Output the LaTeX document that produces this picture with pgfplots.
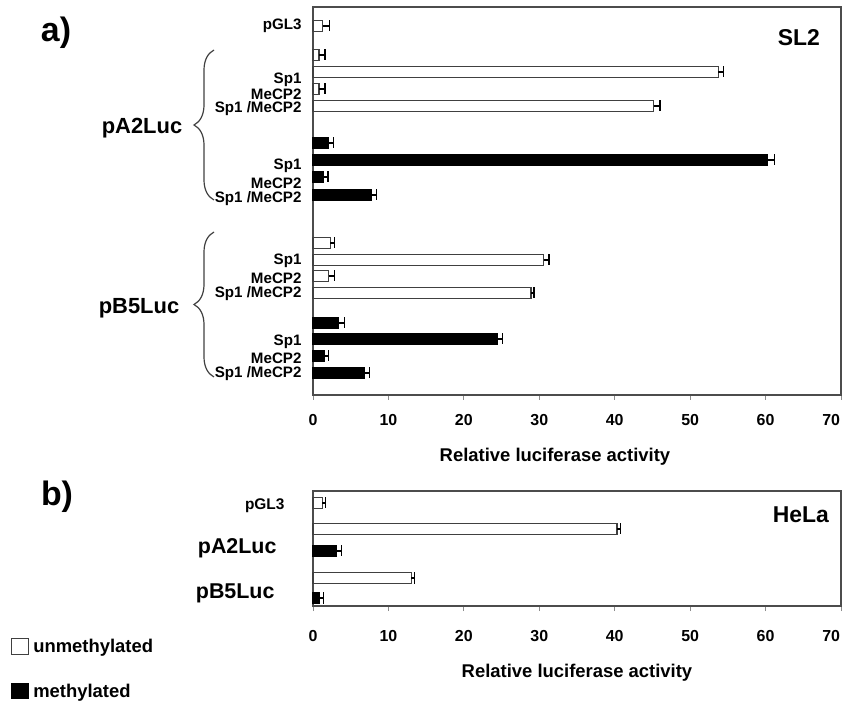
\documentclass[border=0pt]{standalone}
\usepackage{pgfplots}
\pgfplotsset{compat=1.18}
\usepackage{fontspec}
\setmainfont{Liberation Sans}
\usetikzlibrary{decorations.pathreplacing}
\newcommand{\fs}[1]{\fontsize{#1}{#1}\selectfont\bfseries}
\begin{document}
\bfseries
\begin{tikzpicture}
\useasboundingbox (0,0) rectangle (846bp,702bp);
\pgfplotsset{
  common/.style={
    scale only axis, width=528bp,
    xmin=0, xmax=70, xtick={0,10,...,70},
    xticklabels={0,10,20,30,40,50,60,{\makebox[0pt][r]{70\hspace*{1bp}}}},
    axis line style={draw=black!70, line width=1.1bp},
    tick align=outside, xtick pos=bottom,
    x tick style={draw=black!45, line width=0.8bp},
    major tick length=5bp,
    ytick style={draw=none},
    /pgf/number format/assume math mode=true,
    xticklabel style={font=\fs{16}},
    xlabel={Relative luciferase activity},
    xlabel style={font=\fs{18.5}},
    clip=false,
  },
  wbar/.style={xbar, bar shift=0pt, bar width=11, fill=white, draw=black!75, line width=1.1bp,
    error bars/.cd, x dir=plus, x explicit, error mark=|,
    error bar style={black, line width=1.1bp},
    error mark options={black, mark size=5.5bp, line width=1.2bp}, /pgfplots/.cd},
  bbar/.style={xbar, bar shift=0pt, bar width=11, fill=black, draw=black, line width=1.1bp,
    error bars/.cd, x dir=plus, x explicit, error mark=|,
    error bar style={black, line width=1.1bp},
    error mark options={black, mark size=5.5bp, line width=1.2bp}, /pgfplots/.cd},
}
% ---------- panel a ----------
\begin{axis}[common, height=388bp, at={(313bp,307bp)}, anchor=south west,
  ymin=307, ymax=695,
  xticklabel style={yshift=-11bp},
  xlabel style={at={(axis description cs:0.5,0)}, anchor=center, yshift=-62bp, xshift=-22bp},
  ytick={676,622,608,593,536,519,503,441,424,408,360,344,328},
  yticklabels={pGL3,Sp1,MeCP2,Sp1 /MeCP2,Sp1,MeCP2,Sp1 /MeCP2,Sp1,MeCP2,Sp1 /MeCP2,Sp1,MeCP2,Sp1 /MeCP2},
  yticklabel style={font=\fs{15.2}, xshift=-3bp},
]
\addplot[wbar] coordinates {
  (1.3,676) +- (0.9,0)
  (0.8,647) +- (0.8,0)
  (53.7,630) +- (0.7,0)
  (0.8,613) +- (0.8,0)
  (45.2,596) +- (0.8,0)
  (2.3,459) +- (0.6,0)
  (30.6,442) +- (0.7,0)
  (2.1,426) +- (0.8,0)
  (28.9,409) +- (0.4,0)
};
\addplot[bbar] coordinates {
  (2.0,559) +- (0.7,0)
  (60.2,542) +- (1.0,0)
  (1.4,525) +- (0.6,0)
  (7.8,507) +- (0.6,0)
  (3.4,379) +- (0.8,0)
  (24.4,363) +- (0.7,0)
  (1.5,346) +- (0.6,0)
  (6.8,329) +- (0.7,0)
};
\node[font=\fs{23}] at (rel axis cs:0.920,0.920) {SL2};
\end{axis}
% ---------- panel b ----------
\begin{axis}[common, height=115bp, at={(313bp,96bp)}, anchor=south west,
  ymin=96, ymax=211,
  xticklabel style={yshift=-16bp},
  xlabel style={at={(axis description cs:0.5,0)}, anchor=center, yshift=-67bp},
  ytick={196,154,109},
  yticklabels={{\fs{15.5}pGL3},{\fs{21.5}pA2Luc\hspace*{8bp}},{\fs{21.5}pB5Luc\hspace*{10bp}}},
  yticklabel style={xshift=-20bp},
  legend style={at={(axis description cs:-0.572,-0.27)}, anchor=north west, draw=none, fill=none,
    font=\fs{18.5}, row sep=26bp, cells={anchor=west}, inner sep=0pt,
    nodes={inner xsep=4bp}},
]
\addplot[legend image code/.code={\draw[fill=white,draw=black!75,line width=1bp] (0bp,-8bp) rectangle (17bp,8bp);}, wbar] coordinates {
  (1.2,199) +- (0.5,0)
  (40.3,173) +- (0.5,0)
  (13.0,124) +- (0.5,0)
};
\addplot[legend image code/.code={\fill[black] (0bp,-7bp) rectangle (17bp,8bp);}, bbar] coordinates {
  (3.1,151) +- (0.7,0)
  (0.8,104) +- (0.6,0)
};
\legend{unmethylated,methylated}
\node[font=\fs{23}] at (rel axis cs:0.924,0.791) {HeLa};
\end{axis}
% ---------- annotations ----------
\node[font=\fs{34}] at (56bp,669bp) {a)};
\node[font=\fs{34}] at (57bp,205bp) {b)};
\node[font=\fs{22}] at (142bp,574bp) {pA2Luc};
\node[font=\fs{22}] at (139bp,394bp) {pB5Luc};
\draw[decorate, decoration={brace, amplitude=20bp}, black!75, line width=1.2bp] (214bp,502bp) -- (214bp,652bp);
\draw[decorate, decoration={brace, amplitude=20bp}, black!75, line width=1.2bp] (214bp,325bp) -- (214bp,470bp);
\end{tikzpicture}
\end{document}
